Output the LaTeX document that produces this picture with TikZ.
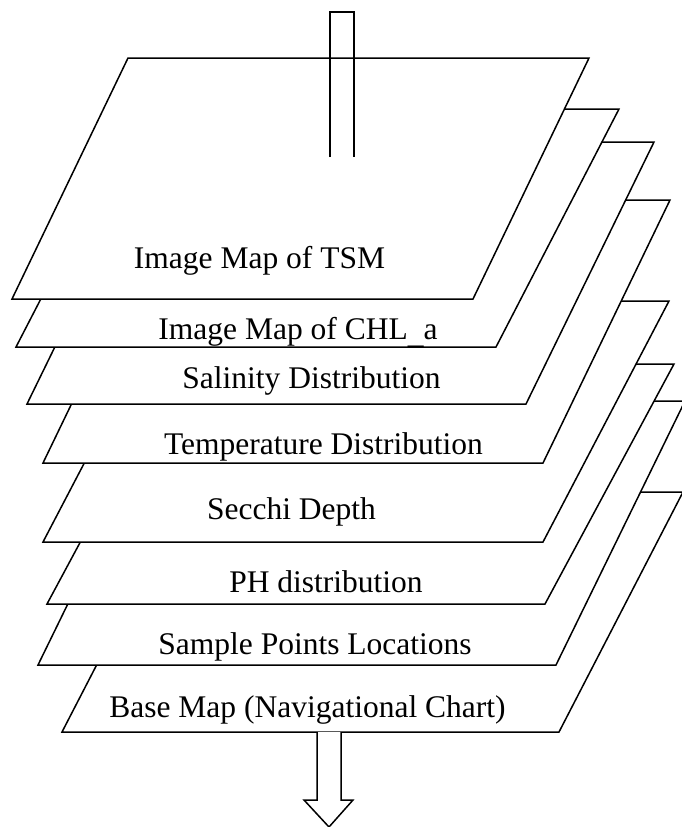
\documentclass[tikz,border=0pt]{standalone}
\usepackage{fontspec}
\setmainfont{Liberation Serif}
\begin{document}
\begin{tikzpicture}[x=1pt,y=-1pt, line width=1.5pt, line join=miter,
  layer/.style={draw=black, fill=white},
  lbl/.style={anchor=base, inner sep=0pt, font=\fontsize{31.5}{36}\selectfont}]
\useasboundingbox (0,0) rectangle (682,827);
\clip (0,0) rectangle (682,827);
% layers, bottom to top
\draw[layer] (62,732) -- (559,732) -- (683,492) -- (186,492) -- cycle;
\node[lbl] (t8) at (307.5,717) {Base Map (Navigational Chart)};
\draw[layer] (38,665) -- (556,665) -- (685,401) -- (167,401) -- cycle;
\node[lbl] (t7) at (315,654) {Sample Points Locations};
\draw[layer] (47,604) -- (545,604) -- (674,364) -- (176,364) -- cycle;
\node[lbl] (t6) at (326,592) {PH distribution};
\draw[layer] (43,542) -- (543,542) -- (669,301) -- (169,301) -- cycle;
\node[lbl] (t5) at (291.5,519) {Secchi Depth};
\draw[layer] (43,463) -- (543,463) -- (670,200) -- (170,200) -- cycle;
\node[lbl] (t4) at (323.5,454) {Temperature Distribution};
\draw[layer] (27,404) -- (526,404) -- (654,142) -- (155,142) -- cycle;
\node[lbl] (t3) at (311.5,388) {Salinity Distribution};
\draw[layer] (16,347) -- (496,347) -- (619,109) -- (139,109) -- cycle;
\node[lbl] (t2) at (298,339) {Image Map of CHL\raisebox{-4.5pt}{\_}a};
\draw[layer] (12,299) -- (473,299) -- (589,58) -- (128,58) -- cycle;
\node[lbl] (t1) at (259.5,268) {Image Map of TSM};
% input arrow (open stem)
\draw (330,157) -- (330,12) -- (354,12) -- (354,157);
% output arrow
\draw[fill=white] (317,732) -- (317,800) -- (304,800) -- (329,827) -- (353,800) -- (341,800) -- (341,732);
\end{tikzpicture}
\end{document}
